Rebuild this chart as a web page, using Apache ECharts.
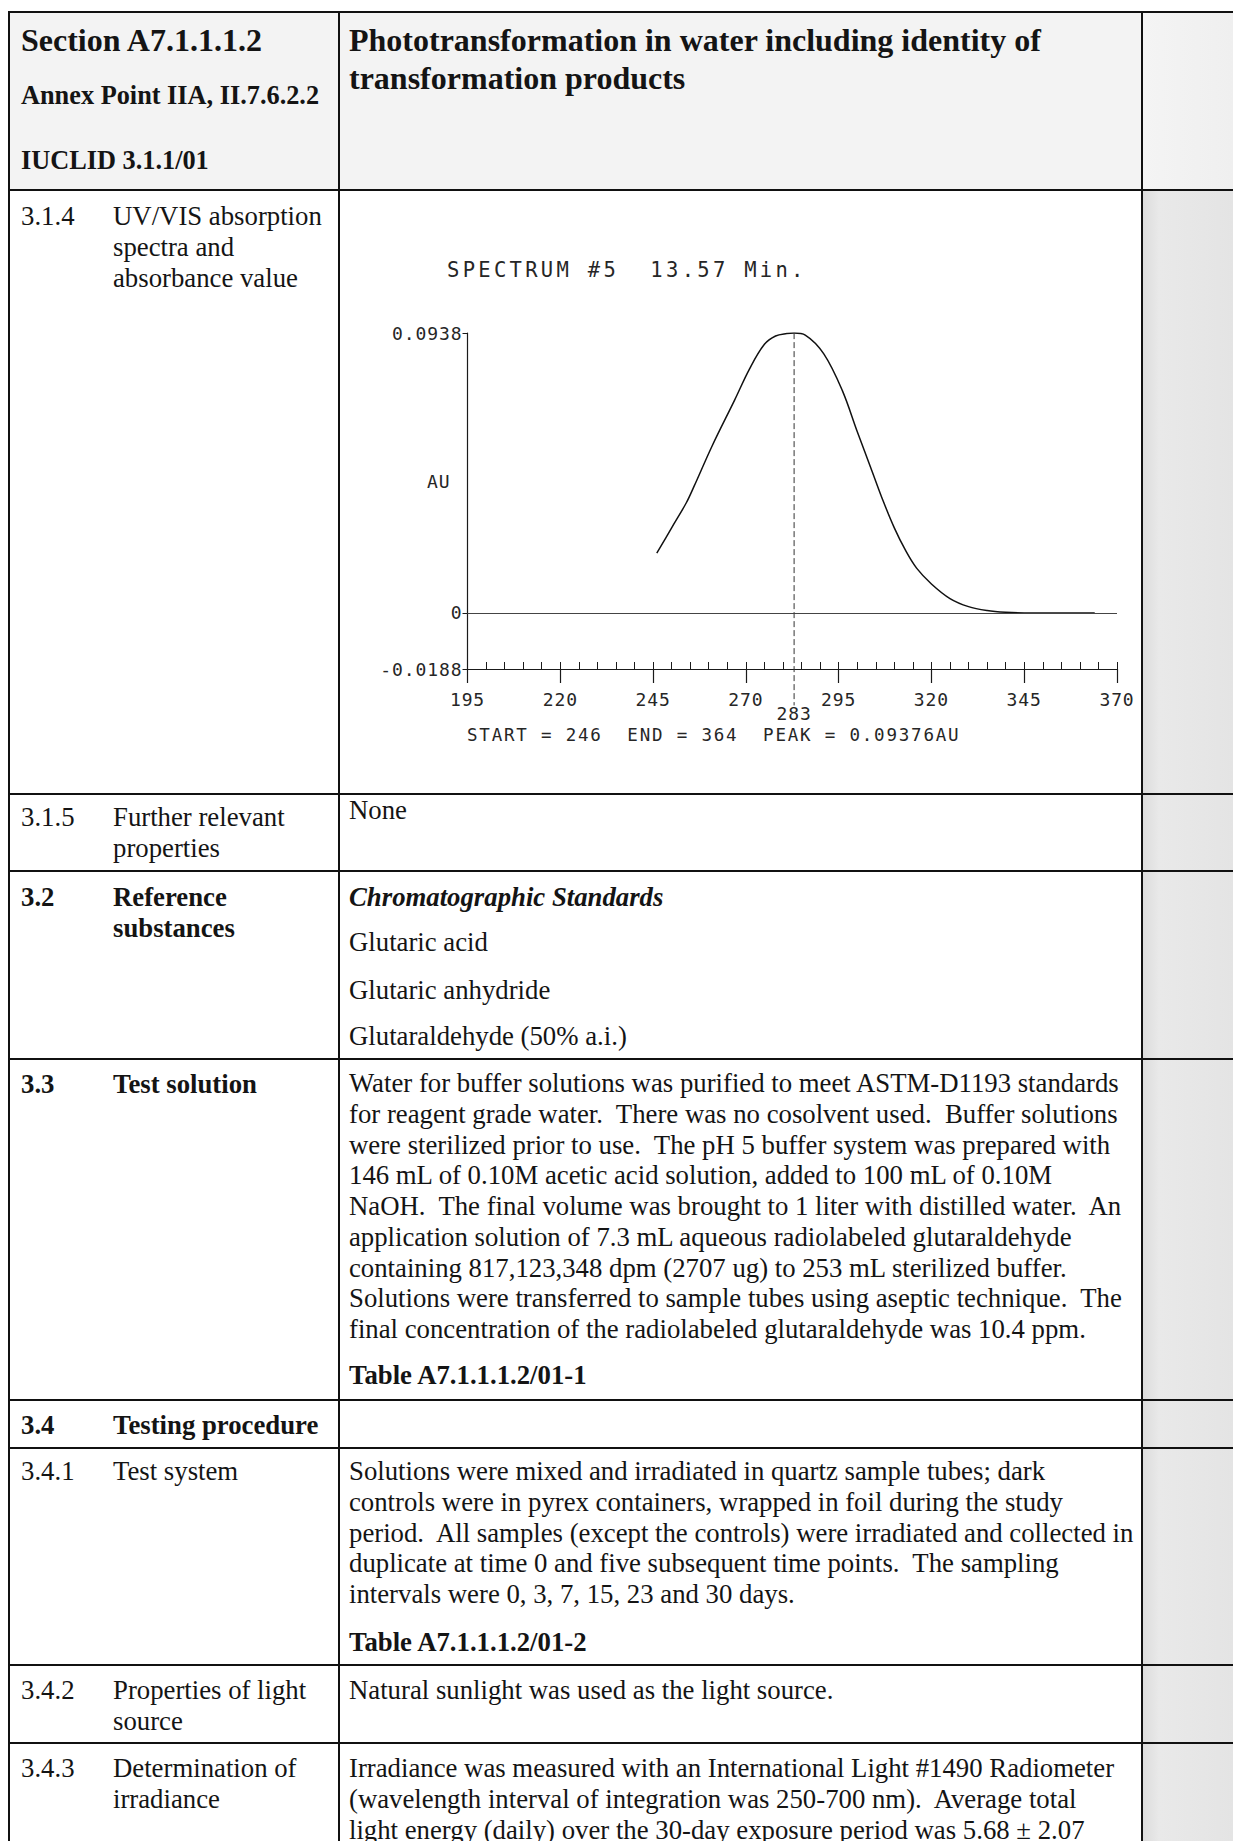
<!DOCTYPE html>
<html>
<head>
<meta charset="utf-8">
<title>Section A7.1.1.1.2 – Phototransformation in water</title>
<script src="https://cdn.jsdelivr.net/npm/echarts@6/dist/echarts.min.js"></script>
<style>
  html, body { margin: 0; padding: 0; background: #fff; }
  body {
    width: 1233px; height: 1841px; position: relative; overflow: hidden;
    font-family: 'Liberation Serif', 'Times New Roman', serif; color: #141414;
  }
  .bg { position: absolute; }
  .hl { position: absolute; left: 8px; right: 0; height: 2px; background: #111; }
  .vl { position: absolute; top: 11px; bottom: 0; width: 2px; background: #111; }
  .t { position: absolute; white-space: pre; font-size: 26.75px; line-height: 30.8px; }
  .b { font-weight: bold; }
  .bi { font-weight: bold; font-style: italic; }
  .hd1 { font-size: 32px; line-height: 37.5px; font-weight: bold; }
  .hd2 { font-size: 26.3px; line-height: 30.8px; font-weight: bold; }
  #chart { position: absolute; left: 341px; top: 191px; width: 800px; height: 602px; }
  #chart text { letter-spacing: 0.9px; }
  #chart text[style*="20.5px"] { letter-spacing: 3.3px; }
  #chart text[style*="17.5px"] { letter-spacing: 1.8px; }
</style>
</head>
<body>

<!-- shaded header row and side column -->
<div class="bg" style="left:10px; top:13px; width:1223px; height:177px; background:#f3f3f3;"></div>
<div class="bg" style="left:1143px; top:13px; width:90px; height:177px; background:linear-gradient(to right,#f4f4f4,#efefef);"></div>
<div class="bg" style="left:1143px; top:191px; width:90px; height:1650px; background:linear-gradient(to right,#dcdcdc 0%,#e9e9e9 18%,#e4e4e4 100%);"></div>

<!-- table rules -->
<div class="hl" style="top:11px"></div>
<div class="hl" style="top:189px"></div>
<div class="hl" style="top:793px"></div>
<div class="hl" style="top:870px"></div>
<div class="hl" style="top:1058px"></div>
<div class="hl" style="top:1399px"></div>
<div class="hl" style="top:1447px"></div>
<div class="hl" style="top:1664px"></div>
<div class="hl" style="top:1742px"></div>
<div class="vl" style="left:8px"></div>
<div class="vl" style="left:338px"></div>
<div class="vl" style="left:1141px"></div>

<!-- header -->
<div class="t hd1" style="left:21px; top:22px">Section A7.1.1.1.2</div>
<div class="t hd2" style="left:21px; top:81px">Annex Point IIA, II.7.6.2.2</div>
<div class="t hd2" style="left:21px; top:146px">IUCLID 3.1.1/01</div>
<div class="t hd1" style="left:349px; top:22px">Phototransformation in water including identity of
transformation products</div>

<!-- 3.1.4 -->
<div class="t" style="left:21px; top:201px">3.1.4</div>
<div class="t" style="left:113px; top:201px">UV/VIS absorption
spectra and
absorbance value</div>

<!-- 3.1.5 -->
<div class="t" style="left:21px; top:802px">3.1.5</div>
<div class="t" style="left:113px; top:802px">Further relevant
properties</div>
<div class="t" style="left:349px; top:795px">None</div>

<!-- 3.2 -->
<div class="t b" style="left:21px; top:882px">3.2</div>
<div class="t b" style="left:113px; top:882px">Reference
substances</div>
<div class="t bi" style="left:349px; top:882px">Chromatographic Standards</div>
<div class="t" style="left:349px; top:927px">Glutaric acid</div>
<div class="t" style="left:349px; top:975px">Glutaric anhydride</div>
<div class="t" style="left:349px; top:1021px">Glutaraldehyde (50% a.i.)</div>

<!-- 3.3 -->
<div class="t b" style="left:21px; top:1069px">3.3</div>
<div class="t b" style="left:113px; top:1069px">Test solution</div>
<div class="t" style="left:349px; top:1068px; line-height:30.77px">Water for buffer solutions was purified to meet ASTM-D1193 standards
for reagent grade water.  There was no cosolvent used.  Buffer solutions
were sterilized prior to use.  The pH 5 buffer system was prepared with
146 mL of 0.10M acetic acid solution, added to 100 mL of 0.10M
NaOH.  The final volume was brought to 1 liter with distilled water.  An
application solution of 7.3 mL aqueous radiolabeled glutaraldehyde
containing 817,123,348 dpm (2707 ug) to 253 mL sterilized buffer.
Solutions were transferred to sample tubes using aseptic technique.  The
final concentration of the radiolabeled glutaraldehyde was 10.4 ppm.</div>
<div class="t b" style="left:349px; top:1360px">Table A7.1.1.1.2/01-1</div>

<!-- 3.4 -->
<div class="t b" style="left:21px; top:1410px">3.4</div>
<div class="t b" style="left:113px; top:1410px">Testing procedure</div>

<!-- 3.4.1 -->
<div class="t" style="left:21px; top:1456px">3.4.1</div>
<div class="t" style="left:113px; top:1456px">Test system</div>
<div class="t" style="left:349px; top:1456px; line-height:30.8px">Solutions were mixed and irradiated in quartz sample tubes; dark
controls were in pyrex containers, wrapped in foil during the study
period.  All samples (except the controls) were irradiated and collected in
duplicate at time 0 and five subsequent time points.  The sampling
intervals were 0, 3, 7, 15, 23 and 30 days.</div>
<div class="t b" style="left:349px; top:1627px">Table A7.1.1.1.2/01-2</div>

<!-- 3.4.2 -->
<div class="t" style="left:21px; top:1675px">3.4.2</div>
<div class="t" style="left:113px; top:1675px">Properties of light
source</div>
<div class="t" style="left:349px; top:1675px">Natural sunlight was used as the light source.</div>

<!-- 3.4.3 -->
<div class="t" style="left:21px; top:1753px">3.4.3</div>
<div class="t" style="left:113px; top:1753px">Determination of
irradiance</div>
<div class="t" style="left:349px; top:1753px">Irradiance was measured with an International Light #1490 Radiometer
(wavelength interval of integration was 250-700 nm).  Average total
light energy (daily) over the 30-day exposure period was 5.68 ± 2.07</div>

<!-- UV/VIS spectrum -->
<div id="chart"></div>

<script>
// Spectrum #5 at 13.57 min: wavelength (nm) and absorbance (AU)
const wavelengths = [246, 250, 254, 256, 261, 267, 271, 275, 278, 281, 283, 286, 291, 296,
  300, 304, 307, 310, 313, 316, 320, 325, 330, 335, 340, 345, 350, 355, 360, 364];
const absorbance = [0.0200, 0.0285, 0.0370, 0.0423, 0.0562, 0.0714, 0.0818, 0.0900, 0.0928,
  0.0936, 0.09376, 0.0931, 0.0868, 0.0745, 0.0608, 0.0475, 0.0375, 0.0285, 0.0210, 0.0150,
  0.0097, 0.0048, 0.0021, 0.0008, 0.0002, 0.0000, 0.0000, 0.0000, 0.0000, 0.0000];

// axis scale and tick labels
const xTickLabels = [195, 220, 245, 270, 295, 320, 345, 370];
const yTickLabels = [-0.0188, 0, 0.0938];
const spectrumNumber = 5;
const retentionMinutes = 13.57;

const xMin = xTickLabels[0], xMax = xTickLabels[xTickLabels.length - 1];
const yMin = yTickLabels[0], yMax = yTickLabels[yTickLabels.length - 1];

// peak of the spectrum
let peakIdx = 0;
absorbance.forEach((v, i) => { if (v > absorbance[peakIdx]) peakIdx = i; });
const peakNm = wavelengths[peakIdx];
const peakAu = absorbance[peakIdx];
const guideFloor = -0.031; // how far the peak marker drops below the scale

const mono = 'DejaVu Sans Mono';
const ink = '#262626';
const gap = ' \u00a0';

const titleText = 'SPECTRUM #' + spectrumNumber + gap + retentionMinutes.toFixed(2) + ' Min.';
const infoText = 'START = ' + wavelengths[0] + gap + 'END = ' + wavelengths[wavelengths.length - 1] +
  gap + 'PEAK = ' + peakAu.toFixed(5) + 'AU';

const chart = echarts.init(document.getElementById('chart'), null, { renderer: 'svg' });
chart.setOption({
  animation: false,
  backgroundColor: 'transparent',
  title: [
    { text: titleText, left: 101, top: 63,
      textStyle: { fontFamily: mono, fontSize: 20.5, fontWeight: 'normal', color: ink } },
    { text: infoText, left: 121, top: 530,
      textStyle: { fontFamily: mono, fontSize: 17.5, fontWeight: 'normal', color: ink } }
  ],
  grid: { left: 126.5, right: 24, top: 142, bottom: 124 },
  xAxis: [
    { type: 'value', min: xMin, max: xMax, position: 'bottom',
      axisLine: { onZero: false, lineStyle: { color: '#1a1a1a', width: 1.2 } },
      axisTick: { customValues: xTickLabels, length: 14, lineStyle: { color: '#1a1a1a', width: 1.2 } },
      axisLabel: { customValues: xTickLabels, margin: 21, fontFamily: mono, fontSize: 18, color: ink },
      splitLine: { show: false } },
    { type: 'value', min: xMin, max: xMax, interval: 5, position: 'bottom',
      axisLine: { show: false, onZero: false },
      axisTick: { inside: true, length: 7, lineStyle: { color: '#1a1a1a', width: 1 } },
      axisLabel: { show: false },
      splitLine: { show: false } }
  ],
  yAxis: {
    type: 'value', min: yMin, max: yMax,
    axisLine: { show: true, onZero: false, lineStyle: { color: '#1a1a1a', width: 1.2 } },
    axisTick: { show: true, customValues: yTickLabels, length: 5, lineStyle: { color: '#1a1a1a' } },
    axisLabel: { customValues: yTickLabels, margin: 5, fontFamily: mono, fontSize: 18, color: ink,
      formatter: v => (v === 0 ? '0' : v.toFixed(4)) },
    splitLine: { show: false }
  },
  graphic: [
    { type: 'text', left: 86, top: 281,
      style: { text: 'AU', font: '18px "DejaVu Sans Mono"', fill: ink } }
  ],
  series: [
    { type: 'line', name: 'spectrum', xAxisIndex: 0,
      data: wavelengths.map((w, i) => [w, absorbance[i]]),
      smooth: 0.35, showSymbol: false, silent: true,
      lineStyle: { color: '#111', width: 1.5 },
      markLine: { silent: true, symbol: 'none', label: { show: false },
        lineStyle: { color: '#444', width: 1, type: 'solid' },
        data: [{ yAxis: 0 }] } },
    { type: 'line', name: 'peak', xAxisIndex: 0, clip: false, silent: true,
      symbol: 'circle', symbolSize: 0, showSymbol: true,
      lineStyle: { color: '#333', width: 1, type: [6, 3] },
      label: { show: false },
      data: [
        [peakNm, peakAu],
        { value: [peakNm, guideFloor],
          label: { show: true, position: 'bottom', distance: 0, formatter: String(peakNm),
            fontFamily: mono, fontSize: 18, color: ink, lineHeight: 16 } }
      ] }
  ]
});
</script>
</body>
</html>
